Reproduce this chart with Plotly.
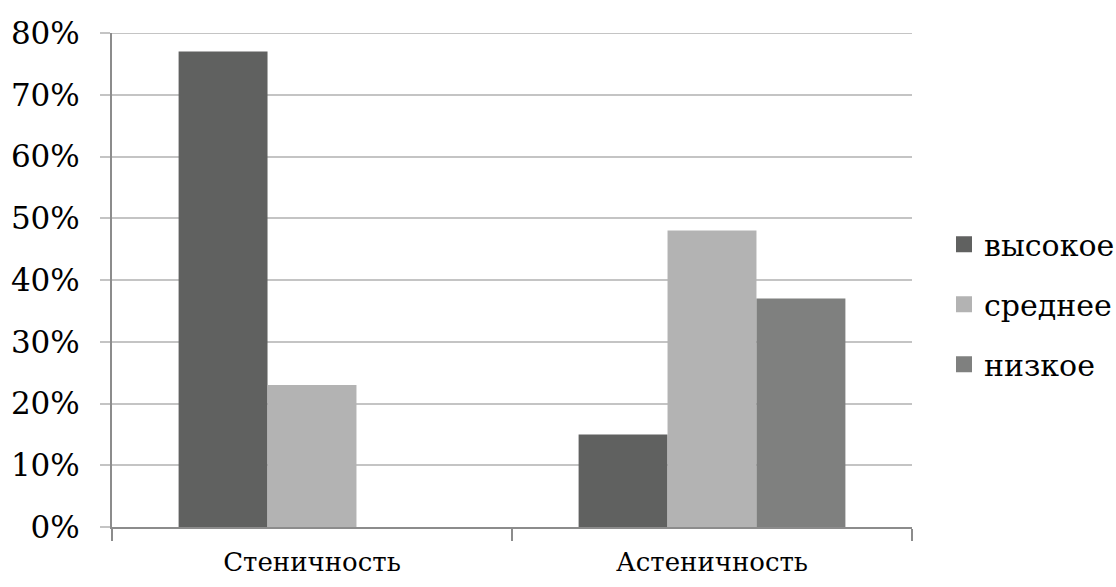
import plotly.graph_objects as go

categories = ["Стеничность", "Астеничность"]
series_names = ["высокое", "среднее", "низкое"]
vysokoe = [77, 15]
srednee = [23, 48]
nizkoe = [0, 37]
y_ticks = [0, 10, 20, 30, 40, 50, 60, 70, 80]
y_tick_labels = [f"{v}%" for v in y_ticks]

colors = ["#606160", "#b3b3b3", "#7f807f"]
font_family = "DejaVu Serif"
text_color = "#000000"
grid_color = "#c4c4c4"
axis_color = "#8c8c8c"

fig = go.Figure()
for name, vals, col in zip(series_names, [vysokoe, srednee, nizkoe], colors):
    fig.add_trace(go.Bar(
        x=categories, y=vals, name=name,
        marker=dict(color=col, line=dict(width=0)),
        showlegend=False,
    ))

# legend entries with larger square swatches
for i, (name, col) in enumerate(zip(series_names, colors)):
    fig.add_trace(go.Scatter(
        x=[None], y=[None], mode="markers", name=name,
        marker=dict(symbol="square", size=20, color=col),
        legendgroup=f"g{i}", showlegend=True,
    ))

# top gridline at the axis maximum
fig.add_shape(type="line", xref="paper", yref="y", x0=0, x1=1,
              y0=y_ticks[-1], y1=y_ticks[-1],
              line=dict(color=grid_color, width=2), layer="below")

fig.update_layout(
    width=1116, height=587,
    margin=dict(l=112, r=204, t=33, b=60, autoexpand=False),
    plot_bgcolor="white", paper_bgcolor="white",
    barmode="group", bargap=0.333, bargroupgap=0,
    font=dict(family=font_family, size=28, color=text_color),
    legend=dict(
        x=1.04, xanchor="left", y=0.451, yanchor="middle",
        tracegroupgap=18, itemwidth=30,
        font=dict(family=font_family, size=30, color=text_color),
        bgcolor="rgba(0,0,0,0)",
    ),
    showlegend=True,
)
fig.update_xaxes(
    showline=True, linecolor=axis_color, linewidth=2,
    ticks="outside", tickson="boundaries", ticklen=12, tickwidth=2,
    tickcolor=axis_color, showgrid=False,
    tickfont=dict(family=font_family, size=26, color=text_color),
    ticklabelstandoff=11,
)
fig.update_yaxes(
    range=[0, 80], tickvals=y_ticks, ticktext=y_tick_labels,
    showline=True, linecolor=axis_color, linewidth=2,
    ticks="outside", ticklen=10, tickwidth=2, tickcolor=grid_color,
    showgrid=True, gridcolor=grid_color, gridwidth=2,
    zeroline=False,
    tickfont=dict(family=font_family, size=31, color=text_color),
    ticklabelstandoff=14,
)

fig.write_html("out.html")
